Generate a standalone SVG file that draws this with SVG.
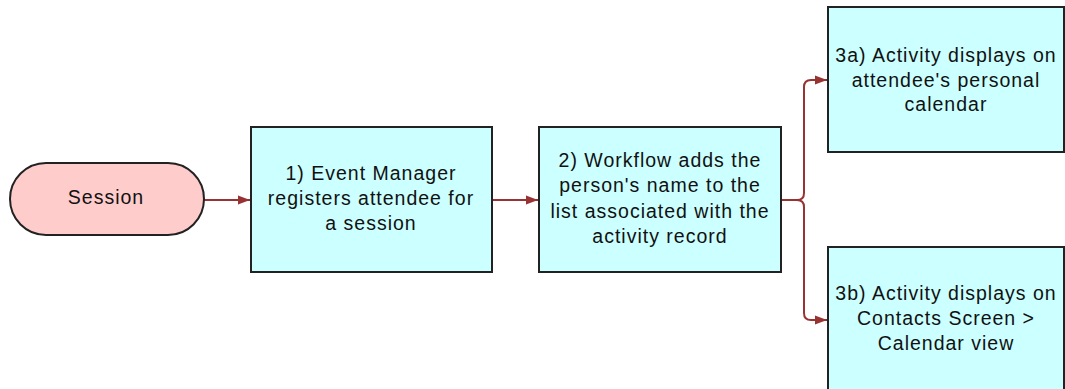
<svg xmlns="http://www.w3.org/2000/svg" width="1065" height="389" viewBox="0 0 1065 389">
<style>
.box{fill:#ccffff;stroke:#222;stroke-width:2}
.term{fill:#ffcccc;stroke:#222;stroke-width:2}
.t{font-family:"Liberation Sans",Arial,sans-serif;font-size:19.5px;letter-spacing:1px;fill:#111;text-anchor:middle}
.c{fill:none;stroke:#993333;stroke-width:2}
</style>
<defs>
<marker id="ah" viewBox="0 0 12 10" refX="12" refY="5" markerWidth="12" markerHeight="10" markerUnits="userSpaceOnUse" orient="auto">
<path d="M0,0.5 L12,5 L0,9.5 Z" fill="#993333"/>
</marker>
</defs>
<rect width="1065" height="389" fill="#fff"/>
<g id="connectors">
<path class="c" d="M204,200 L250,200" marker-end="url(#ah)"/>
<path class="c" d="M492,200 L538,200" marker-end="url(#ah)"/>
<path class="c" d="M781,200 L797,200 Q804,200 804,193 L804,87 Q804,80 811,80 L827,80" marker-end="url(#ah)"/>
<path class="c" d="M797,200 Q804,200 804,207 L804,313 Q804,320 811,320 L827,320" marker-end="url(#ah)"/>
</g>
<g id="session">
<rect class="term" x="10" y="163" width="194" height="72" rx="36" ry="36"/>
<text class="t" x="106" y="204">Session</text>
</g>
<g id="step1">
<rect class="box" x="251" y="127" width="241" height="145"/>
<text class="t" x="371" y="180">1) Event Manager</text>
<text class="t" x="371" y="205">registers attendee for</text>
<text class="t" x="371" y="230">a session</text>
</g>
<g id="step2">
<rect class="box" x="539" y="127" width="242" height="145"/>
<text class="t" x="660" y="167">2) Workflow adds the</text>
<text class="t" x="660" y="192">person's name to the</text>
<text class="t" x="660" y="218">list associated with the</text>
<text class="t" x="660" y="243">activity record</text>
</g>
<g id="step3a">
<rect class="box" x="828" y="7" width="236" height="145"/>
<text class="t" x="946" y="62">3a) Activity displays on</text>
<text class="t" x="946" y="87">attendee's personal</text>
<text class="t" x="946" y="111">calendar</text>
</g>
<g id="step3b">
<rect class="box" x="828" y="247" width="236" height="145"/>
<text class="t" x="946" y="300">3b) Activity displays on</text>
<text class="t" x="946" y="325">Contacts Screen &gt;</text>
<text class="t" x="946" y="350">Calendar view</text>
</g>
</svg>
